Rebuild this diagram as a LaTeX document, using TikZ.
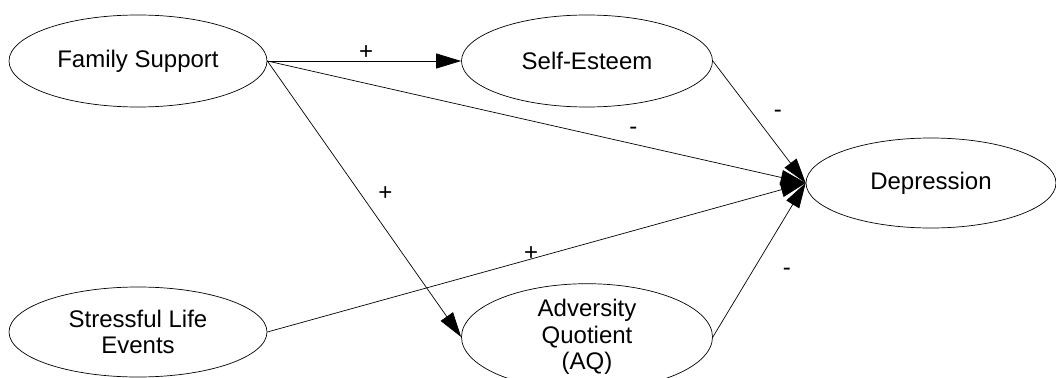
\documentclass[tikz,border=0pt]{standalone}
\usepackage{fontspec}
\setmainfont{Liberation Sans}
\usetikzlibrary{arrows.meta,shapes.geometric}
\begin{document}
\begin{tikzpicture}[x=1pt,y=-1pt,
  var/.style={ellipse,draw,line width=0.7pt,inner sep=0pt,align=center,font=\fontsize{24}{26.5}\selectfont},
  conn/.style={line width=0.7pt,-{Triangle[length=25pt,width=15pt]}},
  sign/.style={font=\fontsize{24}{26}\selectfont,inner sep=1pt}]
\useasboundingbox (0,0) rectangle (1056,377);
\clip (0,0) rectangle (1056,377);
\node[var,minimum width=258pt,minimum height=92pt] (fs) at (138,61) {Family Support};
\node[var,minimum width=251pt,minimum height=92pt] (se) at (587,61) {Self-Esteem};
\node[var,minimum width=250pt,minimum height=90pt] (dep) at (931,183) {Depression};
\node[var,minimum width=258pt,minimum height=90pt] (sle) at (138,332) {Stressful Life\\Events};
\node[var,minimum width=251pt,minimum height=88pt] (aq) at (587,337) {Adversity\\Quotient\\(AQ)};
\draw[conn] (fs.east) -- node[sign,pos=0.51,above] (l1) {+} (se.west);
\draw[conn] (fs.east) -- node[sign,pos=0.68,yshift=13pt] (l2) {-} (dep.west);
\draw[conn] (fs.east) -- node[sign,pos=0.48,xshift=25pt] (l3) {+} (aq.west);
\draw[conn] (se.east) -- node[sign,pos=0.43,xshift=25pt] (l4) {-} (dep.west);
\draw[conn] (sle.east) -- node[sign,pos=0.49,yshift=5pt] (l5) {+} (dep.west);
\draw[conn] (aq.east) -- node[sign,pos=0.42,xshift=35pt] (l6) {-} (dep.west);
\end{tikzpicture}
\end{document}
